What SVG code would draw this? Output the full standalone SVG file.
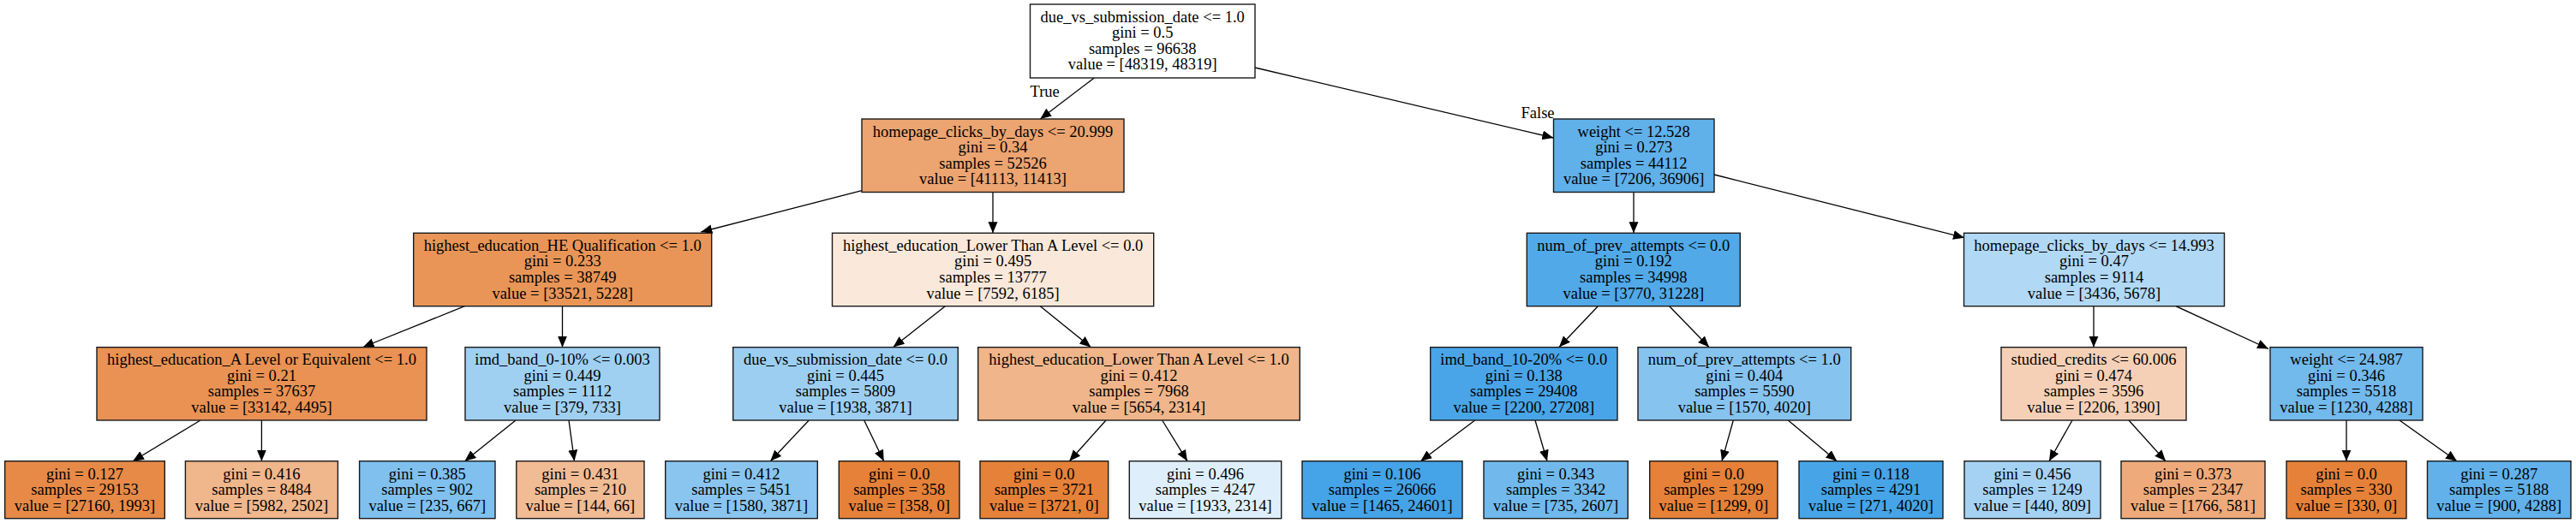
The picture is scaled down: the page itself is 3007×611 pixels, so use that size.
<svg xmlns="http://www.w3.org/2000/svg" width="3007" height="611" viewBox="0 0 3007 611">
<style>
rect.n{stroke:#1a1a1a;stroke-width:1.4}
text{font-family:"Liberation Serif","Times New Roman",serif;font-size:18.5px;fill:#000;text-anchor:middle}
text.lbl{text-anchor:start}
#edges line{stroke:#000;stroke-width:1.3;marker-end:url(#ah)}
</style>
<defs>
<marker id="ah" markerUnits="userSpaceOnUse" markerWidth="14" markerHeight="12" refX="13" refY="5.5" orient="auto">
<path d="M0,0 L13,5.5 L0,11 z" fill="#000"/>
</marker>
</defs>
<rect width="3007" height="611" fill="#fff"/>
<g id="edges">
<line x1="1277.3" y1="91" x2="1214.3" y2="139"/>
<line x1="1465" y1="79" x2="1813.3" y2="161"/>
<line x1="1006" y1="222.7" x2="818.3" y2="271"/>
<line x1="1159" y1="224.5" x2="1159" y2="272.3"/>
<line x1="1907" y1="224.5" x2="1907" y2="272.3"/>
<line x1="2001" y1="204" x2="2293" y2="277.7"/>
<line x1="542.5" y1="357.7" x2="423.7" y2="405.5"/>
<line x1="656.5" y1="357.7" x2="656.5" y2="405.7"/>
<line x1="1103.3" y1="357.7" x2="1042.7" y2="405.5"/>
<line x1="1214.3" y1="357.7" x2="1273.3" y2="405.5"/>
<line x1="1865.3" y1="357.7" x2="1820" y2="405.5"/>
<line x1="1948.7" y1="357.7" x2="1995" y2="405.5"/>
<line x1="2444" y1="357.7" x2="2444" y2="405.7"/>
<line x1="2540" y1="357.7" x2="2648" y2="407.5"/>
<line x1="234" y1="491" x2="155" y2="538.7"/>
<line x1="305.4" y1="491" x2="305.4" y2="538.7"/>
<line x1="602" y1="491" x2="542.5" y2="538.7"/>
<line x1="664" y1="491" x2="670.5" y2="538.7"/>
<line x1="944.3" y1="491" x2="899.3" y2="538.7"/>
<line x1="1008.7" y1="491" x2="1031.7" y2="538.7"/>
<line x1="1291" y1="491" x2="1248.3" y2="538.7"/>
<line x1="1356.7" y1="491" x2="1386" y2="538.7"/>
<line x1="1721.7" y1="491" x2="1658.3" y2="538.7"/>
<line x1="1792" y1="491" x2="1806" y2="538.7"/>
<line x1="2023.3" y1="491" x2="2010" y2="538.7"/>
<line x1="2087.3" y1="491" x2="2144.3" y2="538.7"/>
<line x1="2419" y1="491" x2="2392" y2="538.7"/>
<line x1="2485" y1="491" x2="2528" y2="538.7"/>
<line x1="2739" y1="491" x2="2739" y2="538.7"/>
<line x1="2801" y1="491" x2="2868" y2="538.7"/>
<text class="lbl" x="1202.5" y="112.5">True</text>
<text class="lbl" x="1775.5" y="137.5">False</text>
</g>
<g id="n0"><rect class="n" x="1202.5" y="5" width="262.5" height="86" fill="#ffffff"/>
<text x="1333.7" y="25.5">due_vs_submission_date &lt;= 1.0</text><text x="1333.7" y="44.1">gini = 0.5</text><text x="1333.7" y="62.7">samples = 96638</text><text x="1333.7" y="81.3">value = [48319, 48319]</text></g>
<g id="n1"><rect class="n" x="1006" y="139" width="306" height="85.5" fill="#eca470"/>
<text x="1159" y="159.5">homepage_clicks_by_days &lt;= 20.999</text><text x="1159" y="178.1">gini = 0.34</text><text x="1159" y="196.7">samples = 52526</text><text x="1159" y="215.3">value = [41113, 11413]</text></g>
<g id="n16"><rect class="n" x="1813.5" y="139" width="187.5" height="85.5" fill="#60b0ea"/>
<text x="1907.2" y="159.5">weight &lt;= 12.528</text><text x="1907.2" y="178.1">gini = 0.273</text><text x="1907.2" y="196.7">samples = 44112</text><text x="1907.2" y="215.3">value = [7206, 36906]</text></g>
<g id="n2"><rect class="n" x="482.7" y="272.3" width="348" height="85.4" fill="#e99558"/>
<text x="656.7" y="292.8">highest_education_HE Qualification &lt;= 1.0</text><text x="656.7" y="311.4">gini = 0.233</text><text x="656.7" y="330">samples = 38749</text><text x="656.7" y="348.6">value = [33521, 5228]</text></g>
<g id="n9"><rect class="n" x="971.5" y="272.3" width="375.2" height="85.4" fill="#fae8da"/>
<text x="1159.1" y="292.8">highest_education_Lower Than A Level &lt;= 0.0</text><text x="1159.1" y="311.4">gini = 0.495</text><text x="1159.1" y="330">samples = 13777</text><text x="1159.1" y="348.6">value = [7592, 6185]</text></g>
<g id="n17"><rect class="n" x="1782.3" y="272.3" width="249" height="85.4" fill="#51a9e8"/>
<text x="1906.8" y="292.8">num_of_prev_attempts &lt;= 0.0</text><text x="1906.8" y="311.4">gini = 0.192</text><text x="1906.8" y="330">samples = 34998</text><text x="1906.8" y="348.6">value = [3770, 31228]</text></g>
<g id="n24"><rect class="n" x="2292.5" y="272.3" width="304" height="85.4" fill="#b1d8f5"/>
<text x="2444.5" y="292.8">homepage_clicks_by_days &lt;= 14.993</text><text x="2444.5" y="311.4">gini = 0.47</text><text x="2444.5" y="330">samples = 9114</text><text x="2444.5" y="348.6">value = [3436, 5678]</text></g>
<g id="n3"><rect class="n" x="113" y="405.7" width="385" height="85.3" fill="#e99254"/>
<text x="305.5" y="426.2">highest_education_A Level or Equivalent &lt;= 1.0</text><text x="305.5" y="444.8">gini = 0.21</text><text x="305.5" y="463.4">samples = 37637</text><text x="305.5" y="482">value = [33142, 4495]</text></g>
<g id="n6"><rect class="n" x="543" y="405.7" width="227" height="85.3" fill="#9fd0f2"/>
<text x="656.5" y="426.2">imd_band_0-10% &lt;= 0.003</text><text x="656.5" y="444.8">gini = 0.449</text><text x="656.5" y="463.4">samples = 1112</text><text x="656.5" y="482">value = [379, 733]</text></g>
<g id="n10"><rect class="n" x="855.7" y="405.7" width="262.6" height="85.3" fill="#9ccef2"/>
<text x="987" y="426.2">due_vs_submission_date &lt;= 0.0</text><text x="987" y="444.8">gini = 0.445</text><text x="987" y="463.4">samples = 5809</text><text x="987" y="482">value = [1938, 3871]</text></g>
<g id="n13"><rect class="n" x="1141.7" y="405.7" width="375.6" height="85.3" fill="#f0b58a"/>
<text x="1329.5" y="426.2">highest_education_Lower Than A Level &lt;= 1.0</text><text x="1329.5" y="444.8">gini = 0.412</text><text x="1329.5" y="463.4">samples = 7968</text><text x="1329.5" y="482">value = [5654, 2314]</text></g>
<g id="n18"><rect class="n" x="1669.7" y="405.7" width="218.3" height="85.3" fill="#49a5e7"/>
<text x="1778.8" y="426.2">imd_band_10-20% &lt;= 0.0</text><text x="1778.8" y="444.8">gini = 0.138</text><text x="1778.8" y="463.4">samples = 29408</text><text x="1778.8" y="482">value = [2200, 27208]</text></g>
<g id="n21"><rect class="n" x="1912" y="405.7" width="248.7" height="85.3" fill="#86c3ef"/>
<text x="2036.3" y="426.2">num_of_prev_attempts &lt;= 1.0</text><text x="2036.3" y="444.8">gini = 0.404</text><text x="2036.3" y="463.4">samples = 5590</text><text x="2036.3" y="482">value = [1570, 4020]</text></g>
<g id="n25"><rect class="n" x="2336" y="405.7" width="216" height="85.3" fill="#f5d0b6"/>
<text x="2444" y="426.2">studied_credits &lt;= 60.006</text><text x="2444" y="444.8">gini = 0.474</text><text x="2444" y="463.4">samples = 3596</text><text x="2444" y="482">value = [2206, 1390]</text></g>
<g id="n28"><rect class="n" x="2650" y="405.7" width="178" height="85.3" fill="#72b9ec"/>
<text x="2739" y="426.2">weight &lt;= 24.987</text><text x="2739" y="444.8">gini = 0.346</text><text x="2739" y="463.4">samples = 5518</text><text x="2739" y="482">value = [1230, 4288]</text></g>
<g id="n4"><rect class="n" x="5.7" y="538.7" width="186.6" height="67" fill="#e78a48"/>
<text x="99" y="559.7">gini = 0.127</text><text x="99" y="578.3">samples = 29153</text><text x="99" y="596.9">value = [27160, 1993]</text></g>
<g id="n5"><rect class="n" x="216.4" y="538.7" width="178" height="67" fill="#f0b68c"/>
<text x="305.4" y="559.7">gini = 0.416</text><text x="305.4" y="578.3">samples = 8484</text><text x="305.4" y="596.9">value = [5982, 2502]</text></g>
<g id="n7"><rect class="n" x="419.6" y="538.7" width="158.4" height="67" fill="#7fc0ee"/>
<text x="498.8" y="559.7">gini = 0.385</text><text x="498.8" y="578.3">samples = 902</text><text x="498.8" y="596.9">value = [235, 667]</text></g>
<g id="n8"><rect class="n" x="602.8" y="538.7" width="149.2" height="67" fill="#f1bb94"/>
<text x="677.4" y="559.7">gini = 0.431</text><text x="677.4" y="578.3">samples = 210</text><text x="677.4" y="596.9">value = [144, 66]</text></g>
<g id="n11"><rect class="n" x="776.7" y="538.7" width="177.6" height="67" fill="#8ac5f0"/>
<text x="865.5" y="559.7">gini = 0.412</text><text x="865.5" y="578.3">samples = 5451</text><text x="865.5" y="596.9">value = [1580, 3871]</text></g>
<g id="n12"><rect class="n" x="979.3" y="538.7" width="140.7" height="67" fill="#e58139"/>
<text x="1049.7" y="559.7">gini = 0.0</text><text x="1049.7" y="578.3">samples = 358</text><text x="1049.7" y="596.9">value = [358, 0]</text></g>
<g id="n14"><rect class="n" x="1144" y="538.7" width="149.7" height="67" fill="#e58139"/>
<text x="1218.8" y="559.7">gini = 0.0</text><text x="1218.8" y="578.3">samples = 3721</text><text x="1218.8" y="596.9">value = [3721, 0]</text></g>
<g id="n15"><rect class="n" x="1318.3" y="538.7" width="177.4" height="67" fill="#deeffb"/>
<text x="1407" y="559.7">gini = 0.496</text><text x="1407" y="578.3">samples = 4247</text><text x="1407" y="596.9">value = [1933, 2314]</text></g>
<g id="n19"><rect class="n" x="1520" y="538.7" width="187" height="67" fill="#45a3e7"/>
<text x="1613.5" y="559.7">gini = 0.106</text><text x="1613.5" y="578.3">samples = 26066</text><text x="1613.5" y="596.9">value = [1465, 24601]</text></g>
<g id="n20"><rect class="n" x="1732" y="538.7" width="168.3" height="67" fill="#71b9ec"/>
<text x="1816.1" y="559.7">gini = 0.343</text><text x="1816.1" y="578.3">samples = 3342</text><text x="1816.1" y="596.9">value = [735, 2607]</text></g>
<g id="n22"><rect class="n" x="1925.7" y="538.7" width="149.3" height="67" fill="#e58139"/>
<text x="2000.3" y="559.7">gini = 0.0</text><text x="2000.3" y="578.3">samples = 1299</text><text x="2000.3" y="596.9">value = [1299, 0]</text></g>
<g id="n23"><rect class="n" x="2100" y="538.7" width="168" height="67" fill="#46a4e7"/>
<text x="2184" y="559.7">gini = 0.118</text><text x="2184" y="578.3">samples = 4291</text><text x="2184" y="596.9">value = [271, 4020]</text></g>
<g id="n26"><rect class="n" x="2293" y="538.7" width="159" height="67" fill="#a5d2f3"/>
<text x="2372.5" y="559.7">gini = 0.456</text><text x="2372.5" y="578.3">samples = 1249</text><text x="2372.5" y="596.9">value = [440, 809]</text></g>
<g id="n27"><rect class="n" x="2476" y="538.7" width="168" height="67" fill="#eeaa7a"/>
<text x="2560" y="559.7">gini = 0.373</text><text x="2560" y="578.3">samples = 2347</text><text x="2560" y="596.9">value = [1766, 581]</text></g>
<g id="n29"><rect class="n" x="2669" y="538.7" width="140" height="67" fill="#e58139"/>
<text x="2739" y="559.7">gini = 0.0</text><text x="2739" y="578.3">samples = 330</text><text x="2739" y="596.9">value = [330, 0]</text></g>
<g id="n30"><rect class="n" x="2833.5" y="538.7" width="167.5" height="67" fill="#62b1ea"/>
<text x="2917.2" y="559.7">gini = 0.287</text><text x="2917.2" y="578.3">samples = 5188</text><text x="2917.2" y="596.9">value = [900, 4288]</text></g>
</svg>
